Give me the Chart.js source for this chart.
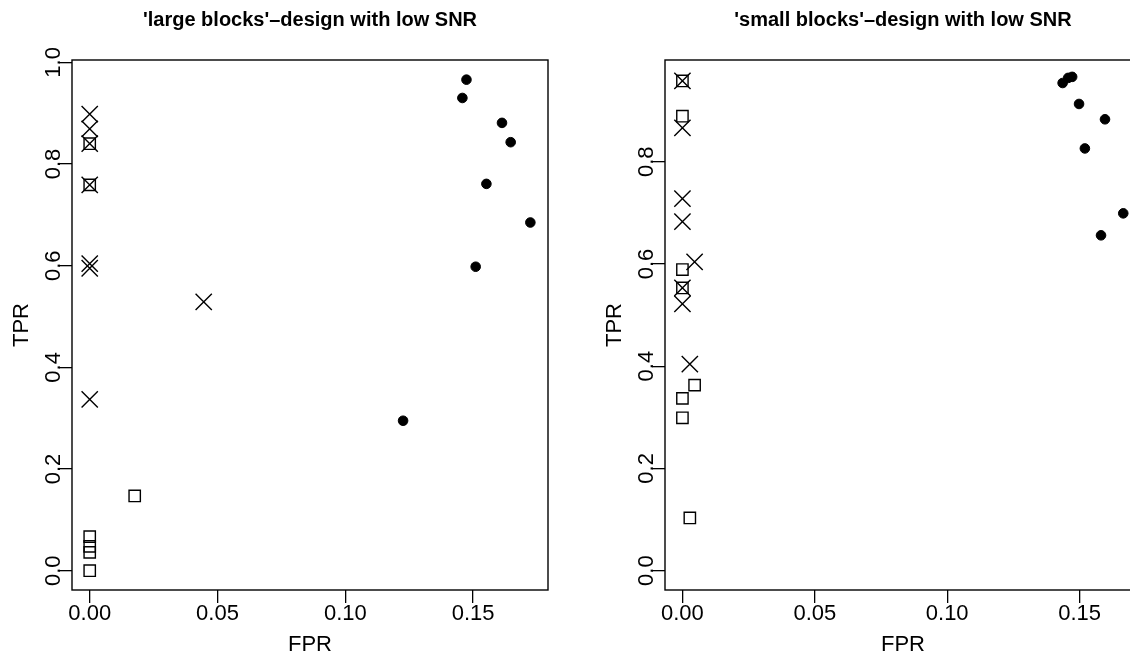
<!DOCTYPE html>
<html>
<head>
<meta charset="utf-8">
<script src="https://cdn.jsdelivr.net/npm/chart.js@4.4.1/dist/chart.umd.min.js"></script>
<style>
  html, body { margin: 0; padding: 0; background: #fff; overflow: hidden; width: 1130px; height: 654px; }
  canvas { position: absolute; top: 0; }
  #leftChart { left: 0; }
  #rightChart { left: 565px; }
</style>
</head>
<body>
<canvas id="leftChart" width="565" height="654"></canvas>
<canvas id="rightChart" width="600" height="654"></canvas>
<script>
// 'large blocks' design: squares, crosses, dots (FPR / TPR)
var largeBoxFPR = [0, 0, 0.0176, 0, 0, 0, 0];
var largeBoxTPR = [0.840, 0.759, 0.147, 0.067, 0.048, 0.036, 0.0];
var largeCrossFPR = [0, 0, 0, 0, 0, 0, 0, 0.0446];
var largeCrossTPR = [0.898, 0.869, 0.840, 0.759, 0.604, 0.595, 0.337, 0.529];
var largeDotFPR = [0.1474, 0.1458, 0.1613, 0.1647, 0.1552, 0.1724, 0.1510, 0.1226];
var largeDotTPR = [0.966, 0.930, 0.881, 0.843, 0.761, 0.685, 0.598, 0.295];

// 'small blocks' design
var smallBoxFPR = [0, 0, 0, 0, 0.0046, 0, 0, 0.0028];
var smallBoxTPR = [0.958, 0.889, 0.589, 0.553, 0.363, 0.337, 0.299, 0.103];
var smallCrossFPR = [0, 0, 0, 0, 0.0046, 0, 0, 0.0028];
var smallCrossTPR = [0.958, 0.866, 0.728, 0.683, 0.604, 0.553, 0.522, 0.404];
var smallDotFPR = [0.1436, 0.1457, 0.1472, 0.1498, 0.1596, 0.1520, 0.1665, 0.1581];
var smallDotTPR = [0.954, 0.964, 0.966, 0.913, 0.883, 0.826, 0.699, 0.656];

var titles = ["'large blocks'\u2013design with low SNR", "'small blocks'\u2013design with low SNR"];
var xLabel = 'FPR';
var yLabel = 'TPR';

var FONT = '"Liberation Sans", Arial, Helvetica, sans-serif';

function pts(xs, ys) {
    return xs.map(function (x, i) { return { x: x, y: ys[i] }; });
}

// draws the R-style box, rotated y labels, x labels, axis titles and main title
var rStyle = {
    id: 'rStyle',
    afterDraw: function (chart) {
        var ctx = chart.ctx;
        var a = chart.chartArea;
        var xs = chart.scales.x, ys = chart.scales.y;
        ctx.save();
        ctx.strokeStyle = '#000';
        ctx.lineWidth = 1.4;
        ctx.strokeRect(a.left, a.top, a.right - a.left, a.bottom - a.top);

        ctx.fillStyle = '#000';
        ctx.font = '22px ' + FONT;
        ctx.textAlign = 'center';
        ctx.textBaseline = 'alphabetic';
        xs.ticks.forEach(function (t) {
            ctx.fillText(t.value.toFixed(2), xs.getPixelForValue(t.value), 620);
        });
        ys.ticks.forEach(function (t) {
            ctx.save();
            ctx.translate(a.left - 12.5, ys.getPixelForValue(t.value));
            ctx.rotate(-Math.PI / 2);
            ctx.fillText(t.value.toFixed(1), 0, 0);
            ctx.restore();
        });
        ctx.fillText(xLabel, (a.left + a.right) / 2, 651);
        ctx.save();
        ctx.translate(a.left - 44, (a.top + a.bottom) / 2);
        ctx.rotate(-Math.PI / 2);
        ctx.fillText(yLabel, 0, 0);
        ctx.restore();

        ctx.font = 'bold 20px ' + FONT;
        ctx.fillText(chart.options.plugins.rTitle, (a.left + a.right) / 2, 26);
        ctx.restore();
    }
};

function makeChart(id, title, boxes, crosses, dots, xr, yr, padRight) {
    var ctx = document.getElementById(id).getContext('2d');
    return new Chart(ctx, {
        type: 'scatter',
        data: {
            datasets: [{
                label: 'dots',
                data: dots,
                pointStyle: 'circle',
                pointRadius: 4.8,
                backgroundColor: '#000',
                borderColor: '#000',
                borderWidth: 1
            }, {
                label: 'squares',
                data: boxes,
                pointStyle: 'rect',
                pointRadius: 8,
                backgroundColor: 'rgba(0,0,0,0)',
                borderColor: '#000',
                borderWidth: 1.4
            }, {
                label: 'crosses',
                data: crosses,
                pointStyle: 'crossRot',
                pointRadius: 11.5,
                backgroundColor: 'rgba(0,0,0,0)',
                borderColor: '#000',
                borderWidth: 1.4
            }]
        },
        options: {
            responsive: false,
            animation: false,
            events: [],
            layout: { padding: { top: 60, right: padRight, bottom: 0, left: 0 } },
            plugins: {
                legend: { display: false },
                tooltip: { enabled: false },
                rTitle: title
            },
            scales: {
                x: {
                    type: 'linear',
                    min: xr[0], max: xr[1],
                    ticks: { stepSize: 0.05, includeBounds: false, color: 'rgba(0,0,0,0)', font: { size: 10 } },
                    grid: { drawOnChartArea: false, drawTicks: true, tickLength: 13, color: '#000', lineWidth: 1.3 },
                    border: { display: false },
                    afterFit: function (scale) { scale.height = 64; }
                },
                y: {
                    type: 'linear',
                    min: yr[0], max: yr[1],
                    ticks: { stepSize: 0.2, includeBounds: false, color: 'rgba(0,0,0,0)', font: { size: 10 } },
                    grid: { drawOnChartArea: false, drawTicks: true, tickLength: 13, color: '#000', lineWidth: 1.3 },
                    border: { display: false },
                    afterFit: function (scale) { scale.width = (id === 'leftChart') ? 72 : 100; }
                }
            }
        },
        plugins: [rStyle]
    });
}

makeChart('leftChart', titles[0],
    pts(largeBoxFPR, largeBoxTPR), pts(largeCrossFPR, largeCrossTPR), pts(largeDotFPR, largeDotTPR),
    [-0.00693, 0.1793], [-0.038, 1.0047], 17);

makeChart('rightChart', titles[1],
    pts(smallBoxFPR, smallBoxTPR), pts(smallCrossFPR, smallCrossTPR), pts(smallDotFPR, smallDotTPR),
    [-0.00658, 0.1732], [-0.0379, 0.999], 24);
</script>
</body>
</html>
